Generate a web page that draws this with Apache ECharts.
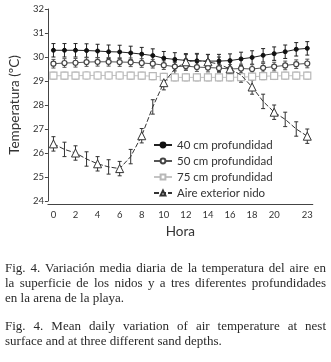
<!DOCTYPE html>
<html>
<head>
<meta charset="utf-8">
<script src="https://cdn.jsdelivr.net/npm/echarts@6/dist/echarts.min.js"></script>
<style>
  html, body { margin: 0; padding: 0; background: #fff; }
  #box1 { width: 331px; height: 362px; }
</style>
</head>
<body>
<div id="box1"></div>
<script>
// hours (categories) and the axis labels that are printed
var hours = ['0','1','2','3','4','5','6','7','8','9','10','11','12','13','14','15','16','17','18','19','20','21','22','23'];
var shownHours = ['0','2','4','6','8','10','12','14','16','18','20','23'];

// mean temperatures per depth
var t40 = [30.28,30.28,30.28,30.27,30.25,30.22,30.21,30.17,30.12,30.06,29.95,29.9,29.86,29.84,29.83,29.83,29.85,29.92,29.98,30.07,30.14,30.22,30.32,30.36];
var t50 = [29.72,29.75,29.76,29.79,29.8,29.8,29.79,29.78,29.75,29.72,29.66,29.6,29.62,29.58,29.56,29.54,29.5,29.52,29.5,29.55,29.6,29.65,29.7,29.73];
var t75 = [29.22,29.22,29.22,29.23,29.23,29.23,29.23,29.22,29.22,29.2,29.17,29.15,29.15,29.15,29.15,29.15,29.15,29.16,29.18,29.2,29.21,29.22,29.22,29.22];
var tAir = [26.38,26.15,26.0,25.75,25.55,25.42,25.35,25.85,26.72,27.92,28.93,29.5,29.8,29.85,29.8,29.7,29.5,29.25,28.75,28.15,27.7,27.4,27.0,26.7];

// error bar half widths
var e40 = 0.28;
var e50 = 0.18;
var e75 = 0.15;
var eAir = 0.3;

var names = ['40 cm profundidad', '50 cm profundidad', '75 cm profundidad', 'Aire exterior nido'];

// caption text
var captionEs = ['Fig. 4. Variación media diaria de la temperatura del aire en', 'la superficie de los nidos y a tres diferentes profundidades', 'en la arena de la playa.'];
var captionEn = ['Fig. 4. Mean daily variation of air temperature at nest', 'surface and at three different sand depths.'];

var myChart = echarts.init(document.getElementById('box1'));

// error bars drawn as a custom series
function errSeries(vals, err, color) {
  return {
    type: 'custom',
    silent: true,
    z: 1,
    data: vals.map(function (v, i) { return [i, v, err]; }),
    renderItem: function (params, api) {
      var i = api.value(0), v = api.value(1), e = api.value(2);
      var hi = api.coord([i, v + e]);
      var lo = api.coord([i, v - e]);
      var st = { stroke: color, lineWidth: 1 };
      return {
        type: 'group',
        children: [
          { type: 'line', shape: { x1: hi[0], y1: hi[1], x2: lo[0], y2: lo[1] }, style: st },
          { type: 'line', shape: { x1: hi[0] - 2, y1: hi[1], x2: hi[0] + 2, y2: hi[1] }, style: st },
          { type: 'line', shape: { x1: lo[0] - 2, y1: lo[1], x2: lo[0] + 2, y2: lo[1] }, style: st }
        ]
      };
    }
  };
}

// justified caption built from measured word widths
var measure = document.createElement('canvas').getContext('2d');
var capFont = '13px "Liberation Serif"';
measure.font = capFont;
function captionLine(text, y, justify) {
  var x0 = 5, W = 321;
  var words = text.split(' ');
  var widths = words.map(function (w) { return measure.measureText(w).width; });
  var sum = widths.reduce(function (a, b) { return a + b; }, 0);
  var gap = justify ? (W - sum) / (words.length - 1) : measure.measureText(' ').width;
  var x = x0;
  var out = [];
  words.forEach(function (w, k) {
    out.push({
      type: 'text', x: x, y: y,
      style: { text: w, font: capFont, fill: '#2a2a2a', textVerticalAlign: 'middle' }
    });
    x += widths[k] + gap;
  });
  return out;
}
var graphics = [];
graphics = graphics.concat(captionLine(captionEs[0], 269, true));
graphics = graphics.concat(captionLine(captionEs[1], 284, true));
graphics = graphics.concat(captionLine(captionEs[2], 298.5, false));
graphics = graphics.concat(captionLine(captionEn[0], 327, true));
graphics = graphics.concat(captionLine(captionEn[1], 341.5, false));

var sans = 'Lato';

var option = {
  animation: false,
  backgroundColor: '#fff',
  grid: { left: 44, top: 9, width: 268.8, height: 192 },
  legend: {
    data: names,
    orient: 'vertical',
    left: 148,
    top: 134,
    itemGap: 4,
    itemWidth: 18,
    itemHeight: 6,
    textStyle: { fontFamily: sans, fontSize: 11.5, color: '#333', padding: [0, 0, 0, 0] }
  },
  xAxis: {
    type: 'category',
    data: hours,
    boundaryGap: true,
    offset: 3,
    name: 'Hora',
    nameLocation: 'middle',
    nameGap: 19,
    nameTextStyle: { fontFamily: sans, fontSize: 13.5, color: '#333' },
    axisLine: { lineStyle: { color: '#444', width: 1 } },
    axisTick: { interval: 0, length: 2, lineStyle: { color: '#444' } },
    axisLabel: {
      fontFamily: sans, fontSize: 9.5, color: '#333', margin: 6,
      interval: function (idx, val) { return shownHours.indexOf(val) >= 0; }
    },
    splitLine: { show: false }
  },
  yAxis: {
    type: 'value',
    min: 24,
    max: 32,
    interval: 1,
    name: 'Temperatura (ºC)',
    nameLocation: 'middle',
    nameRotate: 90,
    nameGap: 17,
    nameTextStyle: { fontFamily: sans, fontSize: 13.5, color: '#333' },
    axisLine: { show: true, lineStyle: { color: '#444', width: 1 } },
    axisTick: { show: true, length: 3, lineStyle: { color: '#444' } },
    axisLabel: { fontFamily: sans, fontSize: 9.5, color: '#333', margin: 4 },
    splitLine: { show: false }
  },
  graphic: graphics,
  series: [
    errSeries(t40, e40, '#222'),
    errSeries(t50, e50, '#555'),
    errSeries(t75, e75, '#bbb'),
    errSeries(tAir, eAir, '#333'),
    {
      name: names[0], type: 'line', data: t40, z: 5,
      symbol: 'circle', symbolSize: 4,
      lineStyle: { color: '#222', width: 1 },
      itemStyle: { color: '#111', borderColor: '#111', borderWidth: 1 }
    },
    {
      name: names[1], type: 'line', data: t50, z: 4,
      symbol: 'circle', symbolSize: 5,
      lineStyle: { color: '#555', width: 1 },
      itemStyle: { color: '#fff', borderColor: '#444', borderWidth: 1.2 }
    },
    {
      name: names[2], type: 'line', data: t75, z: 3,
      symbol: 'rect', symbolSize: 7,
      lineStyle: { color: '#c4c4c4', width: 1 },
      itemStyle: { color: '#fff', borderColor: '#b8b8b8', borderWidth: 1.2 }
    },
    {
      name: names[3], type: 'line', data: tAir, z: 6,
      symbol: 'triangle', symbolSize: 8,
      lineStyle: { color: '#333', width: 1, type: [5, 2] },
      itemStyle: { color: '#fff', borderColor: '#333', borderWidth: 1 }
    }
  ]
};

myChart.setOption(option);
</script>
</body>
</html>
